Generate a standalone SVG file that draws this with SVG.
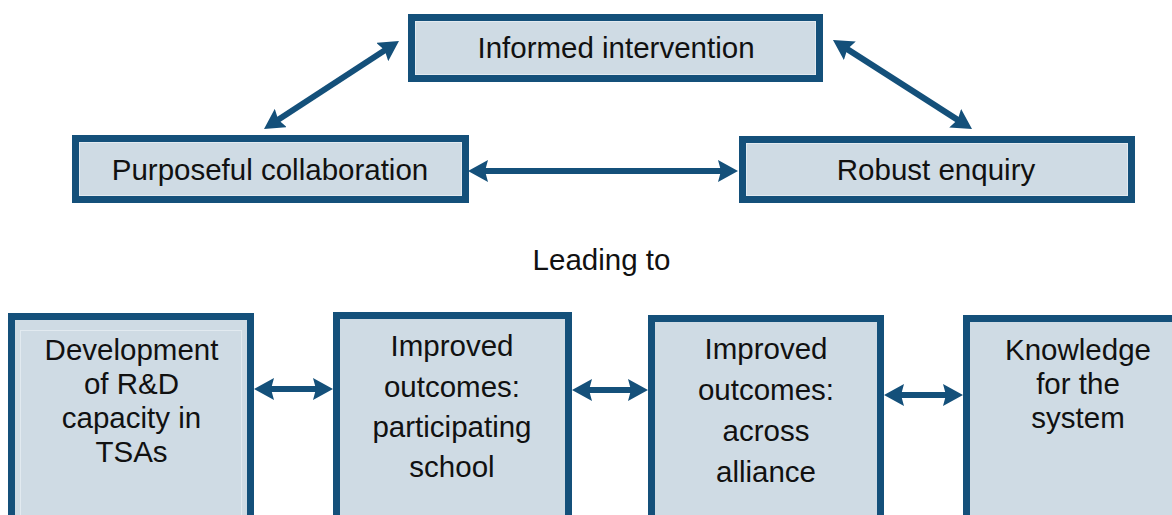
<svg xmlns="http://www.w3.org/2000/svg" width="1172" height="515" viewBox="0 0 1172 515">
  <style>
    .box { fill: #cfdbe4; stroke: #14507a; stroke-width: 7; }
    .inner { fill: none; stroke: #e2eaf0; stroke-width: 1; }
    .lbl { font-family: "Liberation Sans", Arial, sans-serif; font-size: 29.5px; fill: #111; text-anchor: middle; }
    .conn { stroke: #14507a; stroke-width: 6; fill: none; marker-start: url(#ah); marker-end: url(#ah); }
  </style>
  <defs>
    <marker id="ah" viewBox="0 0 20 22" refX="10" refY="11" markerWidth="20" markerHeight="22" markerUnits="userSpaceOnUse" orient="auto-start-reverse">
      <path d="M0,0 L20,11 L0,22 L3,11 z" fill="#14507a"/>
    </marker>
  </defs>
  <rect width="1172" height="515" fill="#ffffff"/>

  <g id="informed-intervention">
    <rect class="box" x="411.5" y="17.5" width="408" height="61"/>
    <rect class="inner" x="415.5" y="21.5" width="400" height="53"/>
    <text class="lbl" x="616" y="58">Informed intervention</text>
  </g>
  <g id="purposeful-collaboration">
    <rect class="box" x="75.5" y="138.5" width="390" height="61"/>
    <rect class="inner" x="79.5" y="142.5" width="382" height="53"/>
    <text class="lbl" x="270" y="180">Purposeful collaboration</text>
  </g>
  <g id="robust-enquiry">
    <rect class="box" x="742.5" y="139.5" width="389" height="60"/>
    <rect class="inner" x="746.5" y="143.5" width="381" height="52"/>
    <text class="lbl" x="936" y="180">Robust enquiry</text>
  </g>

  <g id="leading-to">
    <text class="lbl" x="601.5" y="270">Leading to</text>
  </g>

  <g id="rd-capacity">
    <rect class="box" x="11.5" y="316.5" width="239" height="230"/>
    <rect class="inner" x="20.5" y="330.5" width="221" height="230"/>
    <text class="lbl" x="131.5" y="360">Development</text>
    <text class="lbl" x="131.5" y="394">of R&amp;D</text>
    <text class="lbl" x="131.5" y="428">capacity in</text>
    <text class="lbl" x="131.5" y="462">TSAs</text>
  </g>
  <g id="outcomes-school">
    <rect class="box" x="336.5" y="315.5" width="232" height="230"/>
    <text class="lbl" x="452" y="356">Improved</text>
    <text class="lbl" x="452" y="397">outcomes:</text>
    <text class="lbl" x="452" y="437">participating</text>
    <text class="lbl" x="452" y="477">school</text>
  </g>
  <g id="outcomes-alliance">
    <rect class="box" x="651.5" y="318.5" width="229" height="230"/>
    <text class="lbl" x="766" y="359">Improved</text>
    <text class="lbl" x="766" y="400">outcomes:</text>
    <text class="lbl" x="766" y="441">across</text>
    <text class="lbl" x="766" y="482">alliance</text>
  </g>
  <g id="knowledge-system">
    <rect class="box" x="966.5" y="318.5" width="240" height="230"/>
    <text class="lbl" x="1078" y="360">Knowledge</text>
    <text class="lbl" x="1078" y="394">for the</text>
    <text class="lbl" x="1078" y="428">system</text>
  </g>

  <g id="connectors">
    <line class="conn" x1="272.4" y1="123.5" x2="390.6" y2="46.5"/>
    <line class="conn" x1="841.4" y1="45.4" x2="963.6" y2="123.6"/>
    <line class="conn" x1="478" y1="171" x2="728" y2="171"/>
    <line class="conn" x1="264" y1="389" x2="323" y2="389"/>
    <line class="conn" x1="582" y1="390" x2="638" y2="390"/>
    <line class="conn" x1="894" y1="395" x2="953" y2="395"/>
  </g>
</svg>
